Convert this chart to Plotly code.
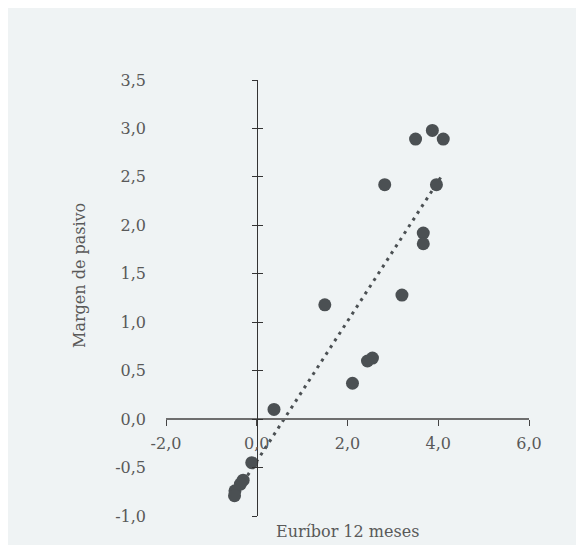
import numpy as np
import plotly.graph_objects as go

# Data
euribor_12m = [3.50, 3.87, 4.11, 2.82, 3.96, 3.67, 3.67, 3.20, 1.50, 2.55, 2.44, 2.11,
               0.38, -0.11, -0.30, -0.36, -0.48, -0.49]
margen_pasivo = [2.89, 2.98, 2.89, 2.42, 2.42, 1.92, 1.81, 1.28, 1.18, 0.63, 0.60, 0.37,
                 0.10, -0.45, -0.63, -0.67, -0.74, -0.79]

x_tickvals = [-2, 0, 2, 4, 6]
x_ticktext = ["-2,0", "0,0", "2,0", "4,0", "6,0"]
y_tickvals = [-1.0, -0.5, 0.0, 0.5, 1.0, 1.5, 2.0, 2.5, 3.0, 3.5]
y_ticktext = ["-1,0", "-0,5", "0,0", "0,5", "1,0", "1,5", "2,0", "2,5", "3,0", "3,5"]

x_title = "Euríbor 12 meses"
y_title = "Margen de pasivo"

# Linear trendline (least squares, like the spreadsheet trendline)
slope, intercept = np.polyfit(euribor_12m, margen_pasivo, 1)
trend_x = [min(euribor_12m), max(euribor_12m)]
trend_y = [slope * v + intercept for v in trend_x]

XR = [-2, 6]
YR = [-1, 3.5]
x0_frac = (0 - XR[0]) / (XR[1] - XR[0])
y0_frac = (0 - YR[0]) / (YR[1] - YR[0])

FONT = "DejaVu Serif"
TXT = "#595959"
MARK = "#4b5053"
BG = "#eff3f4"

# the page body adds an 8px offset; size the figure to fill the rest of the window
OFF = 8
W, H = 584 - OFF, 545 - OFF
ML, MR, MT, MB = 158, 55, 72, 29
PW, PH = W - ML - MR, H - MT - MB


def page_x(px):
    return (px - OFF - ML) / PW


def page_y(py):
    return (H - MB - (py - OFF)) / PH


fig = go.Figure()

fig.add_trace(go.Scatter(
    x=trend_x, y=trend_y, mode="lines",
    line=dict(color=MARK, width=3, dash="3px,5px"),
    hoverinfo="skip", showlegend=False,
))
fig.add_trace(go.Scatter(
    x=euribor_12m, y=margen_pasivo, mode="markers",
    marker=dict(color=MARK, size=13, line=dict(width=0)),
    showlegend=False,
))
# invisible helpers so the overlay axes are drawn
for ya in ["y2", "y3"]:
    fig.add_trace(go.Scatter(
        x=euribor_12m, y=margen_pasivo, mode="markers", yaxis=ya,
        marker=dict(opacity=0), hoverinfo="skip", showlegend=False,
    ))

tickfont = dict(family=FONT, size=16, color=TXT)

fig.update_layout(
    width=W, height=H,
    margin=dict(l=ML, r=MR, t=MT, b=MB),
    paper_bgcolor=BG,
    plot_bgcolor="rgba(0,0,0,0)",
    font=dict(family=FONT, size=16, color=TXT),
    showlegend=False,
    xaxis=dict(
        range=XR, anchor="free", position=y0_frac,
        showgrid=False, zeroline=False,
        showline=True, linecolor="#6e6e6e", linewidth=2,
        ticks="outside", ticklen=6, tickwidth=1, tickcolor="#444444",
        tickvals=x_tickvals, ticktext=x_ticktext, tickfont=tickfont,
        ticklabelstandoff=4,
    ),
    yaxis=dict(
        range=YR, anchor="free", position=x0_frac,
        showgrid=False, zeroline=False,
        showline=True, linecolor="#333333", linewidth=1,
        ticks="outside", ticklen=5, tickwidth=1, tickcolor="#333333",
        tickvals=y_tickvals, showticklabels=False,
    ),
    yaxis3=dict(
        range=YR, overlaying="y", anchor="free", position=x0_frac,
        showgrid=False, zeroline=False, showline=False,
        ticks="inside", ticklen=5, tickwidth=1, tickcolor="#333333",
        tickvals=y_tickvals, showticklabels=False,
    ),
    yaxis2=dict(
        range=YR, overlaying="y", anchor="free", position=0,
        showgrid=False, zeroline=False, showline=False,
        ticks="", tickvals=y_tickvals, ticktext=y_ticktext,
        tickfont=tickfont, ticklabelstandoff=20,
    ),
    annotations=[
        dict(text=x_title, xref="paper", yref="paper",
             x=page_x(347.5), y=page_y(531),
             showarrow=False, font=dict(family=FONT, size=16, color=TXT),
             xanchor="center", yanchor="middle"),
        dict(text=y_title, xref="paper", yref="paper",
             x=page_x(79), y=page_y(276), textangle=-90,
             showarrow=False, font=dict(family=FONT, size=16, color=TXT),
             xanchor="center", yanchor="middle"),
    ],
)

fig.write_html("out.html")
